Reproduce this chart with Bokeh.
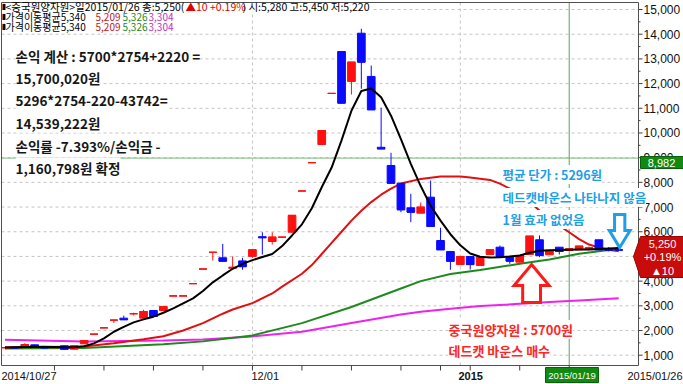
from bokeh.plotting import figure
from bokeh.models import ColumnDataSource, Label, Range1d
from bokeh.core.properties import value
from bokeh.embed import file_html
from bokeh.resources import INLINE

# ---------------- data ----------------
day_index = list(range(63))
opens = [1300, 1310, 1324, 1420, 1352, 1300, 1380, 1243, 1462, 1850,
         2110, 2420, 2500, 2680, 2500, 2810, 2810, 3400, 3400, 3900,
         4490, 5170, 4945, 4520, 4820, 5000, 5800, 5605, 5780, 5980,
         7650, 8800, 9533, 11600, 13300, 12085, 14040, 12290, 9420, 8683,
         7966, 6970, 6751, 7400, 5645, 5200, 4673, 4997, 4633, 5080,
         5374, 4970, 4767, 5080, 5674, 5066, 5374, 5240, 5269, 5300,
         5674, 5300, 5280]
highs = [1330, 1340, 1486, 1430, 1360, 1360, 1390, 1390, 1595, 1850,
         2110, 2440, 2600, 2720, 2840, 2830, 2990, 3400, 3400, 3900,
         4490, 5170, 5510, 5000, 4945, 5270, 5980, 5980, 5780, 6660,
         7650, 8800, 10100, 11600, 13300, 12867, 14220, 12733, 11020, 9197,
         7966, 7537, 7184, 8075, 6160, 5200, 4997, 4997, 4970, 5270,
         5443, 4970, 5038, 5820, 5848, 5240, 5374, 5309, 5415, 5400,
         5674, 5380, 5450]
lows = [1280, 1290, 1310, 1310, 1290, 1290, 1230, 1240, 1460, 1850,
        2110, 2300, 2430, 2610, 2500, 2560, 2800, 3400, 3400, 3900,
        4490, 4830, 4800, 4520, 4460, 4945, 5078, 5480, 5780, 5980,
        7650, 8800, 9533, 11600, 11200, 11558, 11790, 10940, 9360, 7966,
        6792, 6387, 6751, 6212, 5269, 4460, 4673, 4470, 4633, 5080,
        4997, 4700, 4767, 5080, 4970, 5066, 5078, 5240, 5269, 5250,
        5269, 5200, 5220]
closes = [1310, 1300, 1433, 1324, 1300, 1352, 1243, 1380, 1595, 1850,
          2110, 2420, 2440, 2680, 2770, 2567, 2970, 3400, 3400, 3900,
          4490, 5170, 4810, 4560, 4590, 5270, 5760, 5780, 5780, 6660,
          7650, 8800, 10100, 11600, 11210, 12867, 12870, 10940, 9360, 7966,
          6890, 6792, 6994, 6212, 5270, 4807, 4997, 4673, 4970, 5270,
          5000, 4810, 5038, 5820, 5040, 5240, 5200, 5309, 5415, 5350,
          5270, 5240, 5250]

ma5_idx = [0, 2, 4, 6, 7] + list(range(8, 63))
ma5_val = [1310, 1330, 1340, 1320, 1320,
           1360, 1480, 1680, 1950, 2150, 2330, 2450, 2560, 2720, 2900,
           3100, 3300, 3600, 3950, 4230, 4500, 4700, 4850, 4980, 5100,
           5420, 5850, 6300, 6950, 7800, 8600, 9700, 10900, 11700, 11800,
           11450, 10700, 9750, 8750, 7850, 7050, 6450, 5900, 5450, 5120,
           4990, 4960, 4970, 5000, 5040, 5150, 5230, 5250, 5260, 5270,
           5280, 5280, 5300, 5320, 5340]
ma20_idx = [0, 4, 8, 11, 14, 16, 18, 20, 22, 23, 25, 27, 28, 30, 31, 32, 33, 34, 35, 36,
            37, 38, 39, 40, 42, 44, 46, 47, 49, 50, 52, 54, 55, 56, 57, 58, 59, 60, 61, 62]
ma20_val = [1320, 1330, 1350, 1480, 1650, 1770, 2000, 2300, 2680, 2850,
            3110, 3500, 3780, 4300, 4650, 5100, 5550, 6000, 6450, 6850,
            7200, 7500, 7750, 7950, 8140, 8240, 8240, 8200, 8100, 7950,
            7540, 6860, 6480, 6250, 5980, 5700, 5480, 5360, 5270, 5209]
ma60_idx = [0, 8, 16, 20, 25, 30, 35, 40, 42, 45, 48, 52, 55, 58, 61, 62]
ma60_val = [1270, 1290, 1440, 1560, 1800, 2300, 2950, 3700, 4000, 4290,
            4450, 4700, 4880, 5107, 5260, 5326]
ma120_idx = [0, 8, 16, 20, 25, 30, 35, 40, 42, 45, 48, 52, 55, 58, 62]
ma120_val = [1624, 1555, 1595, 1640, 1760, 1950, 2300, 2650, 2760, 2880,
             2990, 3080, 3150, 3220, 3304]

week_ticks = [5, 10, 15, 20, 25, 30, 35, 40, 44, 47, 52, 57]
month_lines = [25, 46]
price_ticks = list(range(1000, 16000, 1000))
price_minor = list(range(1500, 15600, 1000))
date_labels = ["2014/10/27", "12/01", "2015", "2015/01/19", "2015/01/26"]
ref_price = 8982
mark_day = 57
last_close = 5250
chg = "+0.19%"
chg_abs = "▲10"

header_1a = "<중국원양자원>일2015/01/26 종:5,250("
header_1b = "▲10 +0.19%"
header_1c = ") 시:5,280 고:5,450 저:5,220"
legend_name = "가격이동평균5,340"
legend_vals = ["5,209", "5,326", "3,304"]

note_black = ["손익 계산 : 5700*2754+2220 =", "15,700,020원", "5296*2754-220-43742=",
              "14,539,222원", "손익률 -7.393%/손익금 -", "1,160,798원 확정"]
note_blue = ["평균 단가 : 5296원", "데드캣바운스 나타나지 않음", "1월 효과 없었음"]
note_red = ["중국원양자원 : 5700원", "데드캣 바운스 매수"]

# ---------------- geometry (pixel <-> data) ----------------
W, H = 683, 384
FL, FR, FT, FB = 1, 638, 2, 365          # chart frame in pixels
X0, X1 = -0.35, 64.0                      # data at frame left/right
Y0, Y1 = 583, 15284                       # data at frame bottom/top
sx = (FR - FL) / (X1 - X0)
sy = (FB - FT) / (Y1 - Y0)
XS = X0 - FL / sx
XE = XS + W / sx
YE = Y1 + FT / sy
YS = YE - H / sy


def X(px):
    return XS + px / sx


def Y(py):
    return YE - py / sy


p = figure(width=W, height=H, x_range=Range1d(XS, XE), y_range=Range1d(YS, YE),
           x_axis_type=None, y_axis_type=None, toolbar_location=None,
           output_backend="svg", min_border=0)
p.outline_line_color = None
p.background_fill_color = "white"
p.border_fill_color = "white"

# ---- dashed grid ----
gx0, gx1, gy0, gy1 = X(FL), X(FR), Y(FB), Y(FT)
p.segment(x0=[gx0] * len(price_ticks), x1=[gx1] * len(price_ticks), y0=price_ticks, y1=price_ticks,
          line_color="#c4c4c4", line_dash="3 3", line_width=1)
p.segment(x0=month_lines, x1=month_lines, y0=[gy0] * len(month_lines), y1=[gy1] * len(month_lines),
          line_color="#c4c4c4", line_dash="3 3", line_width=1)

# ---- reference lines ----
p.segment(x0=[gx0], x1=[gx1], y0=[ref_price], y1=[ref_price], line_color="#7cbc7c", line_width=1)
p.segment(x0=[mark_day], x1=[mark_day], y0=[gy0], y1=[gy1], line_color="#5aa55a", line_width=1)

# ---- moving averages ----
p.line(ma120_idx, ma120_val, line_color="#ee22ee", line_width=2)
p.line(ma60_idx, ma60_val, line_color="#1e8a1e", line_width=2)
p.line(ma20_idx, ma20_val, line_color="#e01010", line_width=2)

# ---- candles ----
tops = [max(o, c) for o, c in zip(opens, closes)]
bots = [min(o, c) for o, c in zip(opens, closes)]
cols = ["#ff1010" if c >= o else "#0a0aff" for o, c in zip(opens, closes)]
src = ColumnDataSource(dict(x=day_index, h=highs, l=lows, t=tops, b=bots, c=closes, col=cols,
                            xl=[i - 0.39 for i in day_index], xr=[i + 0.39 for i in day_index]))
p.segment(x0="x", y0="l", x1="x", y1="h", line_color="col", line_width=1, source=src)
p.vbar(x="x", width=0.78, top="t", bottom="b", fill_color="col", line_color="col", source=src)
p.segment(x0="xl", y0="c", x1="xr", y1="c", line_color="col", line_width=1.2, source=src)

p.line(ma5_idx, ma5_val, line_color="#000000", line_width=2)

# ---- arrows (hand-drawn annotations) ----
ax, atip, abase, abot = 53.2, Y(264), Y(285), Y(302)
hw, sw = 1.77, 0.9
p.patch([ax, ax + hw, ax + sw, ax + sw, ax - sw, ax - sw, ax - hw],
        [atip, abase, abase, abot, abot, abase, abase],
        fill_color="white", line_color="#ff1a1a", line_width=3, line_join="miter")
bx, btip, bbase, btop = 62.1, Y(247), Y(230), Y(214)
hw2, sw2 = 1.05, 0.52
p.patch([bx, bx + hw2, bx + sw2, bx + sw2, bx - sw2, bx - sw2, bx - hw2],
        [btip, bbase, bbase, btop, btop, bbase, bbase],
        fill_color="white", line_color="#1e9fe6", line_width=3, line_join="miter")

# ---- white header backgrounds ----
p.quad(left=[X(FL + 1), X(FL + 1)], right=[X(372), X(178)], top=[Y(FT + 1), Y(11)],
       bottom=[Y(11), Y(31)], fill_color="white", line_color=None)

# ---- frame border and axes ----
p.quad(left=[gx0], right=[gx1], top=[gy1], bottom=[gy0], fill_alpha=0,
       line_color="#505050", line_width=1)
ax_x = X(FR)
p.segment(x0=[ax_x] * len(price_ticks), x1=[X(FR + 4)] * len(price_ticks),
          y0=price_ticks, y1=price_ticks, line_color="#404040")
p.segment(x0=[ax_x] * len(price_minor), x1=[X(FR + 2)] * len(price_minor),
          y0=price_minor, y1=price_minor, line_color="#404040")
p.text(x=[X(FR + 5)] * len(price_ticks), y=price_ticks, text=[f"{v:,}" for v in price_ticks],
       text_font=value("Liberation Sans"), text_font_size="12px", text_color="#111111",
       text_align="left", text_baseline="middle")
ax_y = Y(FB)
p.segment(x0=week_ticks, x1=week_ticks, y0=[ax_y] * len(week_ticks), y1=[Y(FB + 5)] * len(week_ticks),
          line_color="#404040")
p.text(x=[X(1), X(251)], y=[Y(375)] * 2, text=[date_labels[0], date_labels[1]],
       text_font=value("Liberation Sans"), text_font_size="11px", text_color="#111111",
       text_align="left", text_baseline="middle")
p.text(x=[X(458)], y=[Y(375)], text=[date_labels[2]],
       text_font=value("Liberation Sans"), text_font_size="11px", text_font_style="bold",
       text_color="#111111", text_align="left", text_baseline="middle")
p.text(x=[X(682)], y=[Y(375)], text=[date_labels[4]],
       text_font=value("Liberation Sans"), text_font_size="11px", text_color="#111111",
       text_align="right", text_baseline="middle")

# ---- axis boxes ----
p.quad(left=[X(640)], right=[X(683)], top=[Y(156)], bottom=[Y(168)],
       fill_color="#128a12", line_color="#0b5e0b")
p.text(x=[X(661)], y=[Y(162.5)], text=[f"{ref_price:,}"], text_font=value("Liberation Sans"),
       text_font_size="11px", text_color="white", text_align="center", text_baseline="middle")
p.patch([X(633), X(640), X(683), X(683), X(640)], [Y(256), Y(236), Y(236), Y(277), Y(277)],
        fill_color="#c80c0c", line_color="#a00000")
p.text(x=[X(662)] * 3, y=[Y(243), Y(256.5), Y(270)],
       text=[f"{last_close:,}", chg, chg_abs], text_font=value("Liberation Sans"),
       text_font_size="11px", text_color="white", text_align="center", text_baseline="middle")
p.quad(left=[X(545)], right=[X(598)], top=[Y(367)], bottom=[Y(382)],
       fill_color="#128a12", line_color="#0b5e0b")
p.text(x=[X(571.5)], y=[Y(374.5)], text=[date_labels[3]], text_font=value("Liberation Sans"),
       text_font_size="9.5px", text_color="white", text_align="center", text_baseline="middle")


def lab(px, py, text, color="black", size=11, font="Noto Sans CJK KR", bold=False,
        align="left", bg=None):
    kw = dict(x=X(px), y=Y(py), text=text, text_color=color, text_font_size=f"{size}px",
              text_font=font, text_font_style="bold" if bold else "normal",
              text_align=align, text_baseline="middle", level="overlay")
    if bg is not None:
        kw["background_fill_color"] = bg
    p.add_layout(Label(**kw))


# header lines
lab(1, 6, "▮", size=8, font="DejaVu Sans")
lab(5, 6, header_1a, size=10.5)
lab(185, 6, header_1b, color="#e00000", size=10.5)
lab(242, 6, header_1c, size=10.5)
for py in (16, 26):
    lab(1, py, "▮", size=8, font="DejaVu Sans")
    lab(5, py, legend_name, size=10)
    lab(95, py, legend_vals[0], color="#c01818", size=10)
    lab(122, py, legend_vals[1], color="#1e8a1e", size=10)
    lab(148, py, legend_vals[2], color="#c030c0", size=10)

# notes
for k, t in enumerate(note_black):
    lab(15, [55, 77, 99.5, 122, 145, 167][k], t, color="#161616", size=13.5, bold=True, bg="white")
for k, t in enumerate(note_blue):
    lab(502, [174, 197, 219][k], t, color="#1e9fe6", size=12.5, bold=True, bg="white")
for k, t in enumerate(note_red):
    lab(448, [329, 350][k], t, color="#ff2626", size=13, bold=True, bg="white")

open("out.html", "w").write(file_html(p, INLINE))
